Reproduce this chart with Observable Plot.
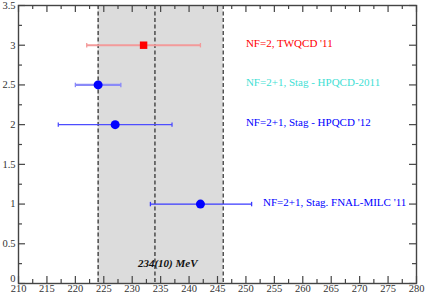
<!DOCTYPE html>
<html><head><meta charset="utf-8">
<script src="https://cdn.jsdelivr.net/npm/d3@7"></script>
<script src="https://cdn.jsdelivr.net/npm/@observablehq/plot@0.6"></script>
<style>
html,body{margin:0;padding:0;background:#fff;}
#chart svg{display:block;}
#chart svg text{font-family:'Liberation Serif','Times New Roman',serif;}
</style>
</head><body><div id="chart"></div>
<script>
// ---- data ----
const labels = ["NF=2, TWQCD '11", "NF=2+1, Stag - HPQCD-2011", "NF=2+1, Stag - HPQCD '12", "NF=2+1, Stag. FNAL-MILC '11"];
const yPos = [3, 2.5, 2, 1];
const central = [232, 224, 227, 242];
const errLow = [222, 220, 217, 233.2];
const errHigh = [242, 228, 237, 251];
const labelX = [250, 250, 250, 253];
const markerShape = ["square", "circle", "circle", "circle"];
const pointColor = ["#ff0000", "#0000ff", "#0000ff", "#0000ff"];
const labelColor = ["#ff0000", "#3fe0d4", "#0000ff", "#0000ff"];
const barColor = ["#f39a9a", "#8a8af8", "#4d4dff", "#3a3aff"];
const barWidth = [2, 2.2, 1.3, 1.3];
const band = [224, 246];
const dashedLines = [224, 234, 246];
const bandLabel = "234(10) MeV";
const bandLabelPos = [231, 0.25];
const xMajor = [210,215,220,225,230,235,240,245,250,255,260,265,270,275,280];
const xMinor = [212.5,217.5,222.5,227.5,232.5,237.5,242.5,247.5,252.5,257.5,262.5,267.5,272.5,277.5];
const yMajor = [0,0.5,1,1.5,2,2.5,3,3.5];
const yMinor = [0.25,0.75,1.25,1.75,2.25,2.75,3.25];
const yTickLabels = ["0","0.5","1","1.5","2","2.5","3","3.5"];

const rows = labels.map((l, i) => ({
  label: l, y: yPos[i], x: central[i], lo: errLow[i], hi: errHigh[i], lx: labelX[i],
  shape: markerShape[i], pc: pointColor[i], lc: labelColor[i], bc: barColor[i], bw: barWidth[i]
}));

// ---- layout ----
const W = 425, H = 297;
const mL = 18, mR = 9, mT = 5, mB = 14;
const iW = W - mL - mR, iH = H - mT - mB;
const majLen = 7, minLen = 4;
const font = "'Liberation Serif', 'Times New Roman', serif";

const capSymbol = {
  draw(ctx, size) {
    const h = Math.sqrt(size) / 2;
    ctx.moveTo(0, -h); ctx.lineTo(0, h);
  }
};

const plot = Plot.plot({
  width: W, height: H,
  marginLeft: mL, marginRight: mR, marginTop: mT, marginBottom: mB,
  style: {fontFamily: font, background: "#fff"},
  x: {domain: [210, 280], label: null},
  y: {domain: [0, 3.5], label: null},
  marks: [
    Plot.rect([{x1: band[0], x2: band[1]}], {x1: "x1", x2: "x2", fill: "#dcdcdc"}),
    Plot.ruleX(dashedLines, {x: d => d, stroke: "#000", strokeWidth: 1, strokeDasharray: "4,2.5"}),
    // ticks (inward)
    Plot.ruleX(xMajor, {x: d => d, insetTop: iH - majLen, stroke: "#444", strokeWidth: 1.2}),
    Plot.ruleX(xMinor, {x: d => d, insetTop: iH - minLen, stroke: "#444", strokeWidth: 1.2}),
    Plot.ruleX(xMajor, {x: d => d, insetBottom: iH - majLen, stroke: "#444", strokeWidth: 1.2}),
    Plot.ruleX(xMinor, {x: d => d, insetBottom: iH - minLen, stroke: "#444", strokeWidth: 1.2}),
    Plot.ruleY(yMajor, {y: d => d, insetRight: iW - majLen, stroke: "#444", strokeWidth: 1.2}),
    Plot.ruleY(yMinor, {y: d => d, insetRight: iW - minLen, stroke: "#444", strokeWidth: 1.2}),
    Plot.ruleY(yMajor, {y: d => d, insetLeft: iW - majLen, stroke: "#444", strokeWidth: 1.2}),
    Plot.ruleY(yMinor, {y: d => d, insetLeft: iW - minLen, stroke: "#444", strokeWidth: 1.2}),
    Plot.frame({stroke: "#444", strokeWidth: 1.4}),
    Plot.axisX({ticks: xMajor, label: null, tickSize: 0, tickPadding: 1.5, fontSize: 10.5, fill: "#333"}),
    Plot.axisY({ticks: yMajor.slice(1), label: null, tickFormat: (d) => yTickLabels[yMajor.indexOf(d)], tickSize: 0, tickPadding: 3, fontSize: 10.5, fill: "#333"}),
    Plot.axisY({ticks: yMajor.slice(0, 1), label: null, tickFormat: (d) => yTickLabels[yMajor.indexOf(d)], tickSize: 0, tickPadding: 3, dy: -5, fontSize: 10.5, fill: "#333"}),
    // error bars
    Plot.link(rows, {x1: "lo", x2: "hi", y1: "y", y2: "y", stroke: "bc", strokeWidth: "bw"}),
    Plot.dot(rows, {x: "lo", y: "y", symbol: capSymbol, r: 2.5, stroke: "bc", strokeWidth: 1.3}),
    Plot.dot(rows, {x: "hi", y: "y", symbol: capSymbol, r: 2.5, stroke: "bc", strokeWidth: 1.3}),
    // points
    Plot.dot(rows.filter(d => d.shape === "circle"), {x: "x", y: "y", r: 4.5, fill: "pc", stroke: "none"}),
    Plot.dot(rows.filter(d => d.shape === "square"), {x: "x", y: "y", symbol: "square", r: 4.2, fill: "pc", stroke: "none"}),
    // labels
    Plot.text(rows, {x: "lx", y: "y", text: "label", fill: "lc", textAnchor: "start", dy: -2, fontSize: 11, fontFamily: font}),
    Plot.text([bandLabel], {x: bandLabelPos[0], y: bandLabelPos[1], text: d => d, textAnchor: "start", fontSize: 11, fontWeight: "bold", fontStyle: "italic", fill: "#111", fontFamily: font})
  ]
});
plot.querySelectorAll("text").forEach(t => { t.style.fontFamily = font; t.setAttribute("font-family", font); });
document.getElementById("chart").append(plot);
</script>
</body></html>
